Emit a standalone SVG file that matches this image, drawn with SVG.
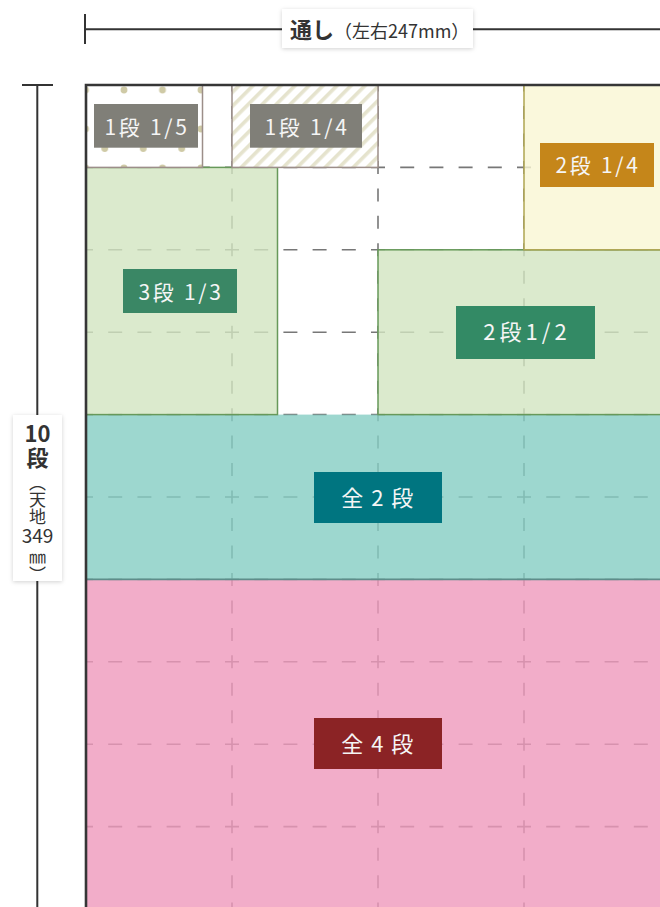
<svg xmlns="http://www.w3.org/2000/svg" width="660" height="907" viewBox="0 0 660 907">
<defs>
<style>
.bg{fill:#ffffff}
.grid line{stroke:#777777;stroke-width:1.6;fill:none}
.grid .h{stroke-dasharray:14 15.2;stroke-dashoffset:7}
.grid .v{stroke-dasharray:13 14.47;stroke-dashoffset:6.5}
.blk{fill-opacity:0.8;stroke-width:1.5}
.green{fill:#d2e5c0;stroke:#67995a}
.yellow{fill:#f9f6d3;stroke:#aea552}
.teal{fill:#84cdc3;stroke:none}
.pink{fill:#ef98bc;stroke:none}
.small{stroke:#9c8e89;stroke-width:1.5}
.tag{font-family:"Noto Sans CJK JP","Noto Sans",sans-serif;fill:#f5f5f5;text-anchor:middle}
.dim{stroke:#333333;stroke-width:2;fill:none}
.note{font-family:"Noto Sans CJK JP","Noto Sans",sans-serif;fill:#333333}
.vt{font-family:"Noto Sans CJK JP","Noto Sans",sans-serif;fill:#333333;text-anchor:middle}
.vr{font-family:"Noto Sans CJK JP","Noto Sans",sans-serif;fill:#333333;writing-mode:vertical-rl}
</style>
<pattern id="dots" patternUnits="userSpaceOnUse" x="85.5" y="90" width="38.5" height="39">
<circle cx="0" cy="0" r="3.4" fill="#cfcaa6"/>
<circle cx="38.5" cy="0" r="3.4" fill="#cfcaa6"/>
<circle cx="0" cy="39" r="3.4" fill="#cfcaa6"/>
<circle cx="38.5" cy="39" r="3.4" fill="#cfcaa6"/>
<circle cx="19.25" cy="19.5" r="3.4" fill="#cfcaa6"/>
</pattern>
<pattern id="hatch" patternUnits="userSpaceOnUse" width="9.9" height="9.9" patternTransform="rotate(45)">
<rect x="0" y="0" width="3.6" height="9.9" fill="#e5e3cd"/>
</pattern>
<filter id="sh" x="-20%" y="-20%" width="140%" height="140%">
<feDropShadow dx="0" dy="1" stdDeviation="2" flood-color="#000000" flood-opacity="0.18"/>
</filter>
</defs>

<rect class="bg" x="0" y="0" width="660" height="907"/>

<g id="grid" class="grid">
<line class="h" x1="86" y1="167.4" x2="670" y2="167.4"/>
<line class="h" x1="86" y1="249.8" x2="670" y2="249.8"/>
<line class="h" x1="86" y1="332.2" x2="670" y2="332.2"/>
<line class="h" x1="86" y1="414.6" x2="670" y2="414.6"/>
<line class="h" x1="86" y1="497" x2="670" y2="497"/>
<line class="h" x1="86" y1="579.4" x2="670" y2="579.4"/>
<line class="h" x1="86" y1="661.8" x2="670" y2="661.8"/>
<line class="h" x1="86" y1="744.2" x2="670" y2="744.2"/>
<line class="h" x1="86" y1="826.6" x2="670" y2="826.6"/>
<line class="v" x1="232" y1="85" x2="232" y2="909"/>
<line class="v" x1="378" y1="85" x2="378" y2="909"/>
<line class="v" x1="524" y1="85" x2="524" y2="909"/>
</g>

<g id="all4">
<rect class="blk pink" x="86" y="579.4" width="584" height="330"/>
<rect x="314" y="718" width="128" height="51" fill="#8b2325"/>
<text class="tag" x="378" y="752" font-size="22" letter-spacing="1.5">全 4 段</text>
</g>

<g id="all2">
<rect class="blk teal" x="86" y="414.6" width="584" height="164.8"/>
<line x1="86" y1="579.4" x2="670" y2="579.4" stroke="#5e8d8a" stroke-width="1.8"/>
<rect x="314" y="472" width="128" height="51" fill="#007580"/>
<text class="tag" x="378" y="506" font-size="22" letter-spacing="1.5">全 2 段</text>
</g>

<g id="s3-13">
<rect class="blk green" x="86" y="167.4" width="191.5" height="247.2"/>
<rect x="123" y="269" width="114" height="44" fill="#3a8765"/>
<text class="tag" x="181" y="300" font-size="21" letter-spacing="2.7">3段 1/3</text>
</g>

<g id="s2-12">
<rect class="blk green" x="378" y="249.8" width="292" height="164.8"/>
<rect x="456" y="306" width="139" height="53" fill="#338a65"/>
<text class="tag" x="527" y="339.5" font-size="22" letter-spacing="4">2段1/2</text>
</g>

<g id="s2-14">
<rect class="blk yellow" x="524" y="85" width="146" height="164.8"/>
<rect x="540" y="143" width="114" height="44" fill="#c5861a"/>
<text class="tag" x="598" y="172.7" font-size="21" letter-spacing="2.7">2段 1/4</text>
</g>

<g id="s1-15">
<rect x="86" y="85" width="116.5" height="82.4" fill="#ffffff"/>
<rect class="small" x="86" y="85" width="116.5" height="82.4" fill="url(#dots)"/>
<rect x="94" y="104" width="104" height="43.7" fill="#807f78"/>
<text class="tag" x="147" y="135" font-size="21" letter-spacing="2.7">1段 1/5</text>
</g>

<g id="s1-14">
<rect x="232" y="85" width="146" height="82.4" fill="#ffffff"/>
<rect class="small" x="232" y="85" width="146" height="82.4" fill="url(#hatch)"/>
<rect x="250" y="104" width="112" height="43.7" fill="#807f78"/>
<text class="tag" x="307" y="135" font-size="21" letter-spacing="2.7">1段 1/4</text>
</g>

<g id="frame">
<path d="M86 907 V85 H660" stroke="#363636" stroke-width="2.6" fill="none"/>
</g>

<g id="width-dim">
<line class="dim" x1="85" y1="29.3" x2="660" y2="29.3"/>
<line class="dim" x1="85" y1="14" x2="85" y2="44"/>
<rect x="282" y="9" width="191" height="39" fill="#ffffff" filter="url(#sh)"/>
<text class="note" x="290" y="37.5" font-size="22" font-weight="bold">通し<tspan font-size="18" font-weight="normal">（左右247mm）</tspan></text>
</g>

<g id="height-dim">
<line class="dim" x1="37.3" y1="85" x2="37.3" y2="907"/>
<line class="dim" x1="22" y1="85" x2="53" y2="85"/>
<rect x="13" y="415" width="49" height="166" fill="#ffffff" filter="url(#sh)"/>
<text class="vt" x="37.5" y="441.5" font-size="22" font-weight="bold">10<tspan x="37.5" y="465.5">段</tspan></text>
<text class="vr" x="37.5" y="474" font-size="17">（天地</text>
<text class="vt" x="37.5" y="543" font-size="19">349</text>
<text class="vr" x="37.5" y="549.5" font-size="17">㎜）</text>
</g>
</svg>
